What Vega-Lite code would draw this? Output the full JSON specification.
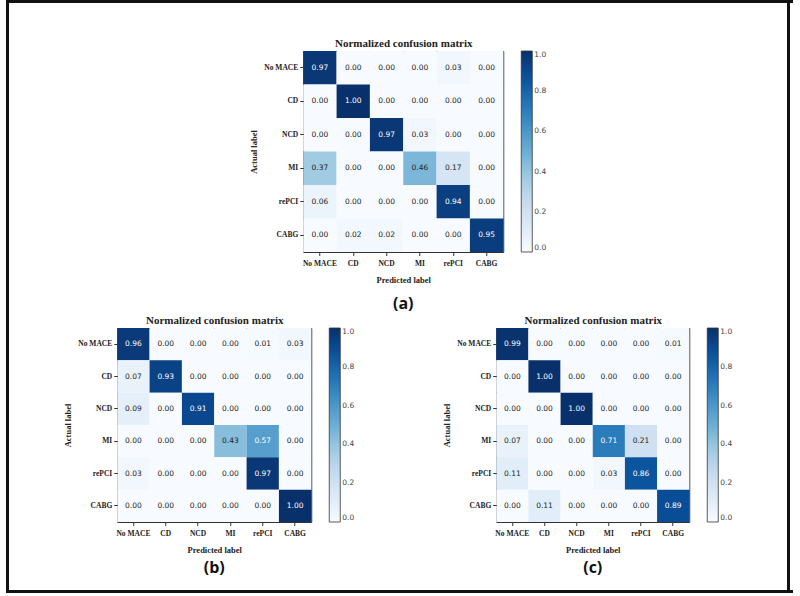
{
  "$schema": "https://vega.github.io/schema/vega-lite/v6.json",
  "background": "white",
  "padding": {"top": 0, "left": 6, "right": 0, "bottom": 0},
  "data": {"values": [
    {"p": "a", "actual": "No MACE", "pred": "No MACE", "v": 0.97},
    {"p": "a", "actual": "No MACE", "pred": "CD", "v": 0.00},
    {"p": "a", "actual": "No MACE", "pred": "NCD", "v": 0.00},
    {"p": "a", "actual": "No MACE", "pred": "MI", "v": 0.00},
    {"p": "a", "actual": "No MACE", "pred": "rePCI", "v": 0.03},
    {"p": "a", "actual": "No MACE", "pred": "CABG", "v": 0.00},
    {"p": "a", "actual": "CD", "pred": "No MACE", "v": 0.00},
    {"p": "a", "actual": "CD", "pred": "CD", "v": 1.00},
    {"p": "a", "actual": "CD", "pred": "NCD", "v": 0.00},
    {"p": "a", "actual": "CD", "pred": "MI", "v": 0.00},
    {"p": "a", "actual": "CD", "pred": "rePCI", "v": 0.00},
    {"p": "a", "actual": "CD", "pred": "CABG", "v": 0.00},
    {"p": "a", "actual": "NCD", "pred": "No MACE", "v": 0.00},
    {"p": "a", "actual": "NCD", "pred": "CD", "v": 0.00},
    {"p": "a", "actual": "NCD", "pred": "NCD", "v": 0.97},
    {"p": "a", "actual": "NCD", "pred": "MI", "v": 0.03},
    {"p": "a", "actual": "NCD", "pred": "rePCI", "v": 0.00},
    {"p": "a", "actual": "NCD", "pred": "CABG", "v": 0.00},
    {"p": "a", "actual": "MI", "pred": "No MACE", "v": 0.37},
    {"p": "a", "actual": "MI", "pred": "CD", "v": 0.00},
    {"p": "a", "actual": "MI", "pred": "NCD", "v": 0.00},
    {"p": "a", "actual": "MI", "pred": "MI", "v": 0.46},
    {"p": "a", "actual": "MI", "pred": "rePCI", "v": 0.17},
    {"p": "a", "actual": "MI", "pred": "CABG", "v": 0.00},
    {"p": "a", "actual": "rePCI", "pred": "No MACE", "v": 0.06},
    {"p": "a", "actual": "rePCI", "pred": "CD", "v": 0.00},
    {"p": "a", "actual": "rePCI", "pred": "NCD", "v": 0.00},
    {"p": "a", "actual": "rePCI", "pred": "MI", "v": 0.00},
    {"p": "a", "actual": "rePCI", "pred": "rePCI", "v": 0.94},
    {"p": "a", "actual": "rePCI", "pred": "CABG", "v": 0.00},
    {"p": "a", "actual": "CABG", "pred": "No MACE", "v": 0.00},
    {"p": "a", "actual": "CABG", "pred": "CD", "v": 0.02},
    {"p": "a", "actual": "CABG", "pred": "NCD", "v": 0.02},
    {"p": "a", "actual": "CABG", "pred": "MI", "v": 0.00},
    {"p": "a", "actual": "CABG", "pred": "rePCI", "v": 0.00},
    {"p": "a", "actual": "CABG", "pred": "CABG", "v": 0.95},

    {"p": "b", "actual": "No MACE", "pred": "No MACE", "v": 0.96},
    {"p": "b", "actual": "No MACE", "pred": "CD", "v": 0.00},
    {"p": "b", "actual": "No MACE", "pred": "NCD", "v": 0.00},
    {"p": "b", "actual": "No MACE", "pred": "MI", "v": 0.00},
    {"p": "b", "actual": "No MACE", "pred": "rePCI", "v": 0.01},
    {"p": "b", "actual": "No MACE", "pred": "CABG", "v": 0.03},
    {"p": "b", "actual": "CD", "pred": "No MACE", "v": 0.07},
    {"p": "b", "actual": "CD", "pred": "CD", "v": 0.93},
    {"p": "b", "actual": "CD", "pred": "NCD", "v": 0.00},
    {"p": "b", "actual": "CD", "pred": "MI", "v": 0.00},
    {"p": "b", "actual": "CD", "pred": "rePCI", "v": 0.00},
    {"p": "b", "actual": "CD", "pred": "CABG", "v": 0.00},
    {"p": "b", "actual": "NCD", "pred": "No MACE", "v": 0.09},
    {"p": "b", "actual": "NCD", "pred": "CD", "v": 0.00},
    {"p": "b", "actual": "NCD", "pred": "NCD", "v": 0.91},
    {"p": "b", "actual": "NCD", "pred": "MI", "v": 0.00},
    {"p": "b", "actual": "NCD", "pred": "rePCI", "v": 0.00},
    {"p": "b", "actual": "NCD", "pred": "CABG", "v": 0.00},
    {"p": "b", "actual": "MI", "pred": "No MACE", "v": 0.00},
    {"p": "b", "actual": "MI", "pred": "CD", "v": 0.00},
    {"p": "b", "actual": "MI", "pred": "NCD", "v": 0.00},
    {"p": "b", "actual": "MI", "pred": "MI", "v": 0.43},
    {"p": "b", "actual": "MI", "pred": "rePCI", "v": 0.57},
    {"p": "b", "actual": "MI", "pred": "CABG", "v": 0.00},
    {"p": "b", "actual": "rePCI", "pred": "No MACE", "v": 0.03},
    {"p": "b", "actual": "rePCI", "pred": "CD", "v": 0.00},
    {"p": "b", "actual": "rePCI", "pred": "NCD", "v": 0.00},
    {"p": "b", "actual": "rePCI", "pred": "MI", "v": 0.00},
    {"p": "b", "actual": "rePCI", "pred": "rePCI", "v": 0.97},
    {"p": "b", "actual": "rePCI", "pred": "CABG", "v": 0.00},
    {"p": "b", "actual": "CABG", "pred": "No MACE", "v": 0.00},
    {"p": "b", "actual": "CABG", "pred": "CD", "v": 0.00},
    {"p": "b", "actual": "CABG", "pred": "NCD", "v": 0.00},
    {"p": "b", "actual": "CABG", "pred": "MI", "v": 0.00},
    {"p": "b", "actual": "CABG", "pred": "rePCI", "v": 0.00},
    {"p": "b", "actual": "CABG", "pred": "CABG", "v": 1.00},

    {"p": "c", "actual": "No MACE", "pred": "No MACE", "v": 0.99},
    {"p": "c", "actual": "No MACE", "pred": "CD", "v": 0.00},
    {"p": "c", "actual": "No MACE", "pred": "NCD", "v": 0.00},
    {"p": "c", "actual": "No MACE", "pred": "MI", "v": 0.00},
    {"p": "c", "actual": "No MACE", "pred": "rePCI", "v": 0.00},
    {"p": "c", "actual": "No MACE", "pred": "CABG", "v": 0.01},
    {"p": "c", "actual": "CD", "pred": "No MACE", "v": 0.00},
    {"p": "c", "actual": "CD", "pred": "CD", "v": 1.00},
    {"p": "c", "actual": "CD", "pred": "NCD", "v": 0.00},
    {"p": "c", "actual": "CD", "pred": "MI", "v": 0.00},
    {"p": "c", "actual": "CD", "pred": "rePCI", "v": 0.00},
    {"p": "c", "actual": "CD", "pred": "CABG", "v": 0.00},
    {"p": "c", "actual": "NCD", "pred": "No MACE", "v": 0.00},
    {"p": "c", "actual": "NCD", "pred": "CD", "v": 0.00},
    {"p": "c", "actual": "NCD", "pred": "NCD", "v": 1.00},
    {"p": "c", "actual": "NCD", "pred": "MI", "v": 0.00},
    {"p": "c", "actual": "NCD", "pred": "rePCI", "v": 0.00},
    {"p": "c", "actual": "NCD", "pred": "CABG", "v": 0.00},
    {"p": "c", "actual": "MI", "pred": "No MACE", "v": 0.07},
    {"p": "c", "actual": "MI", "pred": "CD", "v": 0.00},
    {"p": "c", "actual": "MI", "pred": "NCD", "v": 0.00},
    {"p": "c", "actual": "MI", "pred": "MI", "v": 0.71},
    {"p": "c", "actual": "MI", "pred": "rePCI", "v": 0.21},
    {"p": "c", "actual": "MI", "pred": "CABG", "v": 0.00},
    {"p": "c", "actual": "rePCI", "pred": "No MACE", "v": 0.11},
    {"p": "c", "actual": "rePCI", "pred": "CD", "v": 0.00},
    {"p": "c", "actual": "rePCI", "pred": "NCD", "v": 0.00},
    {"p": "c", "actual": "rePCI", "pred": "MI", "v": 0.03},
    {"p": "c", "actual": "rePCI", "pred": "rePCI", "v": 0.86},
    {"p": "c", "actual": "rePCI", "pred": "CABG", "v": 0.00},
    {"p": "c", "actual": "CABG", "pred": "No MACE", "v": 0.00},
    {"p": "c", "actual": "CABG", "pred": "CD", "v": 0.11},
    {"p": "c", "actual": "CABG", "pred": "NCD", "v": 0.00},
    {"p": "c", "actual": "CABG", "pred": "MI", "v": 0.00},
    {"p": "c", "actual": "CABG", "pred": "rePCI", "v": 0.00},
    {"p": "c", "actual": "CABG", "pred": "CABG", "v": 0.89}
  ]},
  "spacing": 0,
  "resolve": {"scale": {"color": "independent"}, "legend": {"color": "independent"}},
  "vconcat": [
    {
      "width": 785, "height": 1,
      "view": {"stroke": "#111111", "strokeWidth": 2, "fill": "#111111"},
      "transform": [{"filter": "false"}],
      "mark": "point",
      "encoding": {}
    },
    {
      "spacing": 54,
      "resolve": {"scale": {"color": "independent"}, "legend": {"color": "independent"}},
      "hconcat": [
        {
          "width": 1, "height": 585,
          "view": {"stroke": "#111111", "strokeWidth": 2, "fill": "#111111"},
          "transform": [{"filter": "false"}],
          "mark": "point",
          "encoding": {}
        },
        {
          "center": true,
          "spacing": 0,
          "resolve": {"scale": {"color": "independent"}, "legend": {"color": "independent"}},
          "vconcat": [
            {
              "width": 1, "height": 32,
              "view": {"stroke": null, "fill": null},
              "transform": [{"filter": "false"}],
              "mark": "point",
              "encoding": {}
            },
            {
              "width": 200, "height": 201,
              "title": {"text": "(a)", "orient": "bottom", "offset": 12},
              "transform": [{"filter": "datum.p == 'a'"}],
              "layer": [
                {
                  "mark": "rect",
                  "encoding": {
                    "x": {"field": "pred", "type": "nominal", "sort": ["No MACE", "CD", "NCD", "MI", "rePCI", "CABG"], "scale": {"paddingInner": 0, "paddingOuter": 0}, "axis": {"orient": "bottom", "title": "Predicted label", "labelAngle": 0, "labelPadding": 3.5, "titlePadding": 9}},
                    "y": {"field": "actual", "type": "nominal", "sort": ["No MACE", "CD", "NCD", "MI", "rePCI", "CABG"], "scale": {"paddingInner": 0, "paddingOuter": 0}, "axis": {"title": "Actual label", "titlePadding": 5}},
                    "color": {"field": "v", "type": "quantitative", "scale": {"domain": [0, 1], "range": ["#f7fbff", "#deebf7", "#c6dbef", "#9ecae1", "#6baed6", "#4292c6", "#2171b5", "#08519c", "#08306b"]}, "legend": {"gradientLength": 201, "values": [0, 0.2, 0.4, 0.6, 0.8, 1]}}
                  }
                },
                {
                  "mark": {"type": "text", "font": "DejaVu Sans", "fontSize": 7.5},
                  "encoding": {
                    "x": {"field": "pred", "type": "nominal", "sort": ["No MACE", "CD", "NCD", "MI", "rePCI", "CABG"], "axis": {"orient": "top", "labels": false, "ticks": false, "title": "Normalized confusion matrix", "titleFontSize": 11, "titlePadding": 3}},
                    "y": {"field": "actual", "type": "nominal", "sort": ["No MACE", "CD", "NCD", "MI", "rePCI", "CABG"]},
                    "text": {"field": "v", "type": "quantitative", "format": ".2f"},
                    "color": {"condition": {"test": "datum.v > 0.5", "value": "white"}, "value": "#222222"}
                  }
                }
              ],
              "resolve": {"axis": {"x": "independent"}}
            },
            {
              "spacing": 87,
              "resolve": {"scale": {"color": "independent"}, "legend": {"color": "independent"}},
              "hconcat": [
                {
                  "width": 194, "height": 194,
                  "title": {"text": "(b)", "orient": "bottom", "offset": 6},
                  "transform": [{"filter": "datum.p == 'b'"}],
                  "layer": [
                    {
                      "mark": "rect",
                      "encoding": {
                        "x": {"field": "pred", "type": "nominal", "sort": ["No MACE", "CD", "NCD", "MI", "rePCI", "CABG"], "scale": {"paddingInner": 0, "paddingOuter": 0}, "axis": {"orient": "bottom", "title": "Predicted label", "labelAngle": 0, "labelPadding": 3.5, "titlePadding": 9}},
                        "y": {"field": "actual", "type": "nominal", "sort": ["No MACE", "CD", "NCD", "MI", "rePCI", "CABG"], "scale": {"paddingInner": 0, "paddingOuter": 0}, "axis": {"title": "Actual label", "titlePadding": 5}},
                        "color": {"field": "v", "type": "quantitative", "scale": {"domain": [0, 1], "range": ["#f7fbff", "#deebf7", "#c6dbef", "#9ecae1", "#6baed6", "#4292c6", "#2171b5", "#08519c", "#08306b"]}, "legend": {"gradientLength": 194, "values": [0, 0.2, 0.4, 0.6, 0.8, 1]}}
                      }
                    },
                    {
                      "mark": {"type": "text", "font": "DejaVu Sans", "fontSize": 7.5},
                      "encoding": {
                        "x": {"field": "pred", "type": "nominal", "sort": ["No MACE", "CD", "NCD", "MI", "rePCI", "CABG"], "axis": {"orient": "top", "labels": false, "ticks": false, "title": "Normalized confusion matrix", "titleFontSize": 11, "titlePadding": 3}},
                        "y": {"field": "actual", "type": "nominal", "sort": ["No MACE", "CD", "NCD", "MI", "rePCI", "CABG"]},
                        "text": {"field": "v", "type": "quantitative", "format": ".2f"},
                        "color": {"condition": {"test": "datum.v > 0.5", "value": "white"}, "value": "#222222"}
                      }
                    }
                  ],
                  "resolve": {"axis": {"x": "independent"}}
                },
                {
                  "width": 193, "height": 194,
                  "title": {"text": "(c)", "orient": "bottom", "offset": 6},
                  "transform": [{"filter": "datum.p == 'c'"}],
                  "layer": [
                    {
                      "mark": "rect",
                      "encoding": {
                        "x": {"field": "pred", "type": "nominal", "sort": ["No MACE", "CD", "NCD", "MI", "rePCI", "CABG"], "scale": {"paddingInner": 0, "paddingOuter": 0}, "axis": {"orient": "bottom", "title": "Predicted label", "labelAngle": 0, "labelPadding": 3.5, "titlePadding": 9}},
                        "y": {"field": "actual", "type": "nominal", "sort": ["No MACE", "CD", "NCD", "MI", "rePCI", "CABG"], "scale": {"paddingInner": 0, "paddingOuter": 0}, "axis": {"title": "Actual label", "titlePadding": 5}},
                        "color": {"field": "v", "type": "quantitative", "scale": {"domain": [0, 1], "range": ["#f7fbff", "#deebf7", "#c6dbef", "#9ecae1", "#6baed6", "#4292c6", "#2171b5", "#08519c", "#08306b"]}, "legend": {"gradientLength": 194, "values": [0, 0.2, 0.4, 0.6, 0.8, 1]}}
                      }
                    },
                    {
                      "mark": {"type": "text", "font": "DejaVu Sans", "fontSize": 7.5},
                      "encoding": {
                        "x": {"field": "pred", "type": "nominal", "sort": ["No MACE", "CD", "NCD", "MI", "rePCI", "CABG"], "axis": {"orient": "top", "labels": false, "ticks": false, "title": "Normalized confusion matrix", "titleFontSize": 11, "titlePadding": 3}},
                        "y": {"field": "actual", "type": "nominal", "sort": ["No MACE", "CD", "NCD", "MI", "rePCI", "CABG"]},
                        "text": {"field": "v", "type": "quantitative", "format": ".2f"},
                        "color": {"condition": {"test": "datum.v > 0.5", "value": "white"}, "value": "#222222"}
                      }
                    }
                  ],
                  "resolve": {"axis": {"x": "independent"}}
                }
              ]
            }
          ]
        },
        {
          "width": 1, "height": 585,
          "view": {"stroke": "#111111", "strokeWidth": 2, "fill": "#111111"},
          "transform": [{"filter": "false"}],
          "mark": "point",
          "encoding": {}
        }
      ]
    },
    {
      "width": 785, "height": 1,
      "view": {"stroke": "#111111", "strokeWidth": 2, "fill": "#111111"},
      "transform": [{"filter": "false"}],
      "mark": "point",
      "encoding": {}
    }
  ],
  "config": {
    "view": {"stroke": "#333333", "strokeWidth": 1},
    "axis": {"labelFont": "Liberation Serif", "labelFontWeight": "bold", "labelFontSize": 7.5, "labelColor": "#222222", "titleFont": "Liberation Serif", "titleFontSize": 8.5, "titleFontWeight": "bold", "titleColor": "#222222", "tickColor": "#333333", "tickSize": 3.5, "labelPadding": 2, "domain": false, "grid": false},
    "legend": {"title": null, "format": ".1f", "labelOverlap": false, "gradientThickness": 11, "gradientStrokeColor": "#333333", "gradientStrokeWidth": 0.8, "labelFont": "DejaVu Sans", "labelFontSize": 7.5, "labelColor": "#444444", "labelOffset": 5, "offset": 18},
    "title": {"font": "Open Sans", "fontSize": 16, "fontWeight": "bold", "color": "#111111"}
  }
}
